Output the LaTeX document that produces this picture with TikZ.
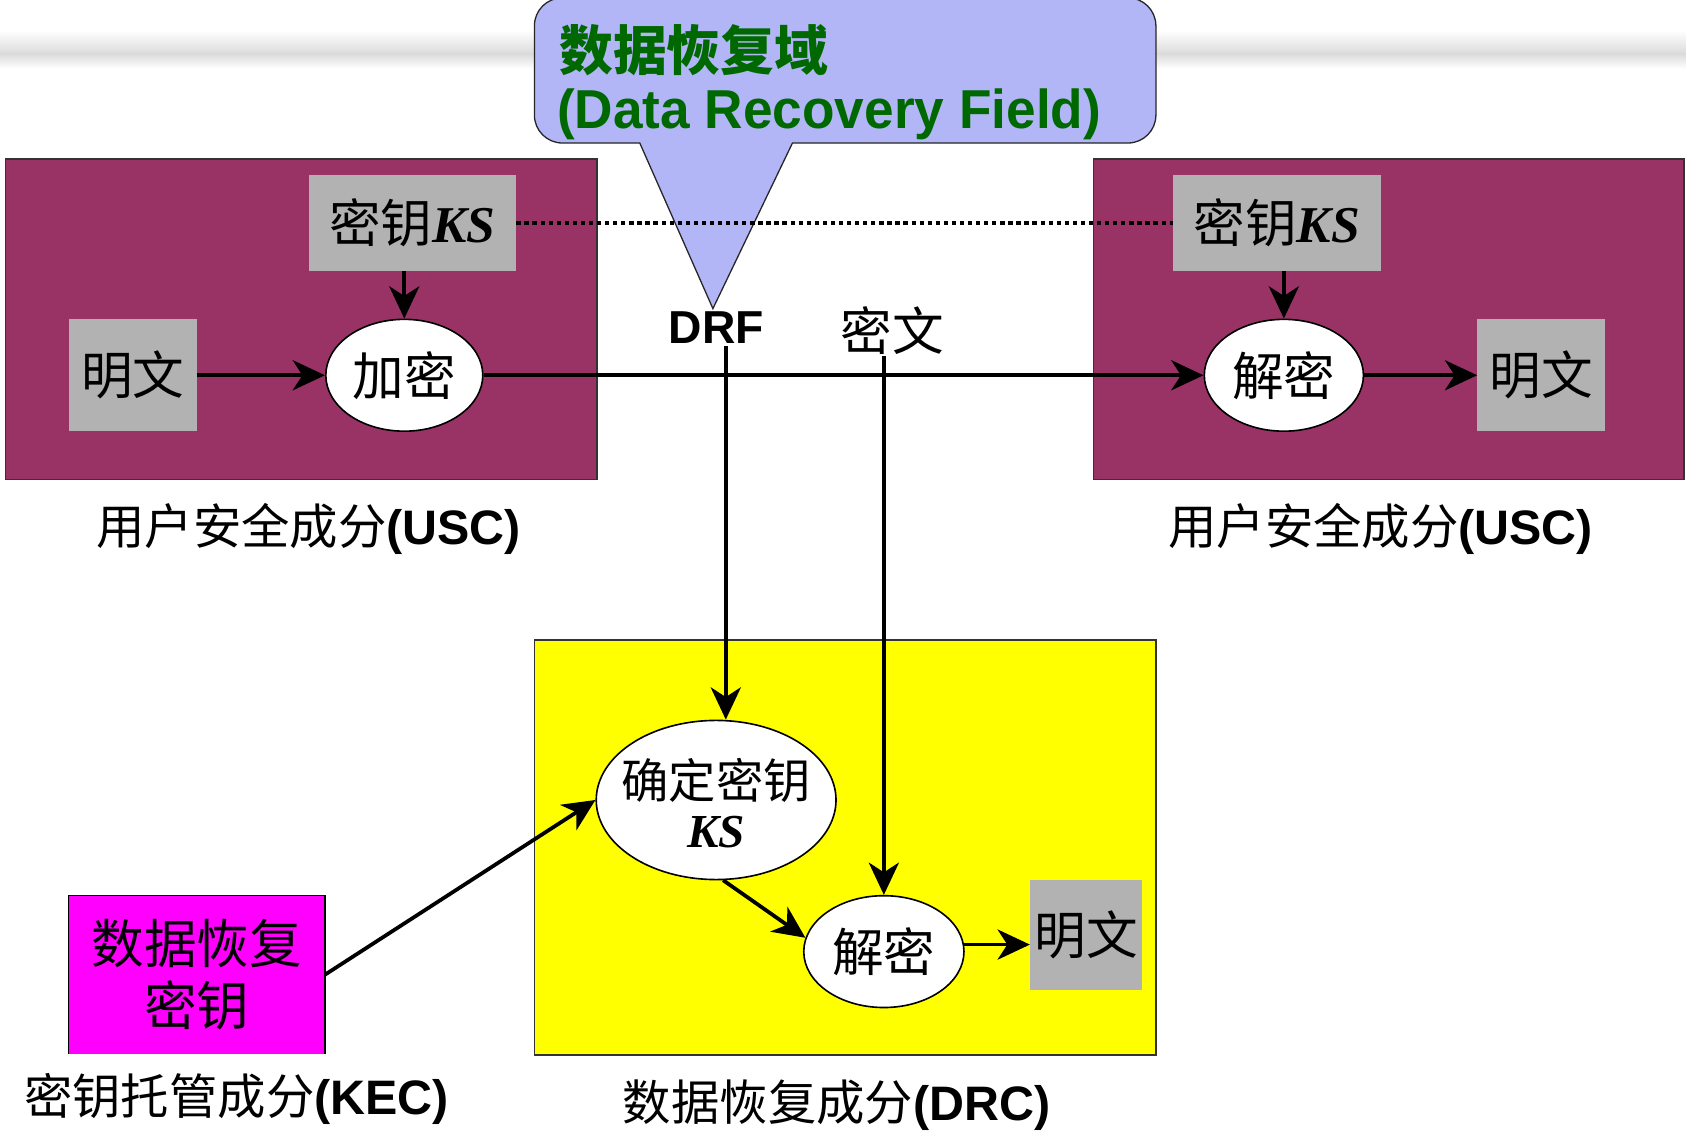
\documentclass[tikz,border=0pt]{standalone}
\usepackage{fontspec}
\setmainfont{Liberation Serif}
\newfontfamily\cjk{Noto Sans CJK SC}
\newfontfamily\arial{Liberation Sans}
\usetikzlibrary{arrows.meta,shapes.geometric}
\definecolor{uscc}{RGB}{153,51,102}
\definecolor{grayc}{RGB}{178,178,178}
\definecolor{calloutc}{RGB}{178,182,246}
\definecolor{greenc}{RGB}{0,104,0}
\definecolor{yellowc}{RGB}{255,255,0}
\definecolor{magentac}{RGB}{255,0,255}
\newcommand{\fs}[1]{\fontsize{#1}{#1}\selectfont}
\newcommand{\ks}{{\bfseries\itshape KS}}
\begin{document}
\begin{tikzpicture}[x=1pt,y=-1pt,
  uscbox/.style={rectangle,fill=uscc,draw=black!80,line width=1.5pt,inner sep=0},
  graybox/.style={rectangle,fill=grayc,inner sep=0,font=\fs{48}},
  ell/.style={ellipse,fill=white,draw=black,line width=1.5pt,inner sep=0,font=\fs{48}},
  lab/.style={inner sep=0,font=\fs{45}},
  arr/.style={line width=3.5pt,-{Stealth[length=30pt,width=28pt,inset=9pt]}},
  dotline/.style={line width=4pt,dash pattern=on 4pt off 3.5pt}]
\useasboundingbox (0,0) rectangle (1568,1054);
\fill[white] (0,0) rectangle (1568,1054);
% slide template band
\shade[top color=white,bottom color=black!14] (0,28) rectangle (1568,50);
\shade[top color=black!14,bottom color=white] (0,50) rectangle (1568,64);

% boxes
\node[uscbox,minimum width=550pt,minimum height=298pt] (uscL) at (280,297) {};
\node[uscbox,minimum width=549pt,minimum height=298pt] (uscR) at (1291.5,297) {};
\node[rectangle,fill=yellowc,draw=black!80,line width=1.5pt,inner sep=0,minimum width=578pt,minimum height=386pt] (drc) at (786,788) {};
\node[rectangle,fill=magentac,inner sep=0,minimum width=238pt,minimum height=147pt,align=center,font=\fs{49}] (kec) at (183,906.5) {\cjk 数据恢复\\[9pt]\cjk 密钥};
\draw[black,line width=1.5pt] (kec.south west) -- (kec.north west) -- (kec.north east) -- (kec.south east);

% callout
\draw[fill=calloutc,draw=black!85,line width=1.2pt]
  (595,133) -- (663,287) -- (737,133) [rounded corners=26pt] -- (1075,133) -- (1075,-2) -- (497,-2) -- (497,133) [sharp corners] -- cycle;
\node[anchor=west,inner sep=0,text=greenc,font=\fs{50}\cjk\bfseries] (drfcn) at (520,47) {数据恢复域};
\node[anchor=west,inner sep=0,text=greenc,font=\fs{51}\arial\bfseries,xscale=0.97] (drfen) at (518,106) {(Data Recovery Field)};

% left USC
\node[graybox,minimum width=193pt,minimum height=89pt] (keyL) at (383.5,207.5) {{\cjk 密钥}\ks};
\node[graybox,minimum width=119pt,minimum height=104pt] (mingL) at (123.5,349) {\cjk 明文};
\node[ell,minimum width=146pt,minimum height=104pt] (jiami) at (376,349) {\cjk 加密};

% right USC
\node[graybox,minimum width=193pt,minimum height=89pt] (keyR) at (1187.5,207.5) {{\cjk 密钥}\ks};
\node[ell,minimum width=148pt,minimum height=104pt] (jiemiR) at (1194,349) {\cjk 解密};
\node[graybox,minimum width=119pt,minimum height=104pt] (mingR) at (1433.5,349) {\cjk 明文};

% middle labels
\node[inner sep=2pt,font=\fs{43}\arial\bfseries] (drf) at (666,305) {DRF};
\node[inner sep=2pt,font=\fs{48}] (mw) at (830,307) {\cjk 密文};

% DRC
\node[ell,minimum width=223pt,minimum height=148pt] (qd) at (666,744) {};
\node[inner sep=0,align=center,font=\fs{44}] (qdtxt) at (666,747) {\cjk 确定密钥\\[2pt]\ks};
\node[ell,minimum width=149pt,minimum height=104pt] (jiemiD) at (822,885) {\cjk 解密};
\node[graybox,minimum width=104pt,minimum height=103pt] (mingD) at (1010,869.5) {\cjk 明文};

% labels
\node[lab] (uscLlab) at (287,492) {{\cjk 用户安全成分}{\arial\bfseries(USC)}};
\node[lab] (uscRlab) at (1284,492) {{\cjk 用户安全成分}{\arial\bfseries(USC)}};
\node[lab] (keclab) at (220,1022) {{\cjk 密钥托管成分}{\arial\bfseries(KEC)}};
\node[lab] (drclab) at (778,1028) {{\cjk 数据恢复成分}{\arial\bfseries(DRC)}};

% connectors
\draw[dotline] (keyL.east) -- (keyR.west);
\draw[arr] (jiami.north |- keyL.south) -- (jiami.north);
\draw[arr] (mingL.east) -- (jiami.west);
\draw[arr] (jiami.east) -- (jiemiR.west);
\draw[arr] (jiemiR.north |- keyR.south) -- (jiemiR.north);
\draw[arr] (jiemiR.east) -- (mingR.west);
\draw[arr] ([xshift=9pt]drf.south) -- ([xshift=9pt]qd.north);
\draw[arr] (jiemiD.north |- mw.south) -- (jiemiD.north);
\draw[arr] (qd.-85) -- (jiemiD.170);
\draw[arr] (jiemiD.5) -- (mingD.west |- jiemiD.5);
\draw[arr] (kec.east) -- (qd.west);
\end{tikzpicture}
\end{document}
